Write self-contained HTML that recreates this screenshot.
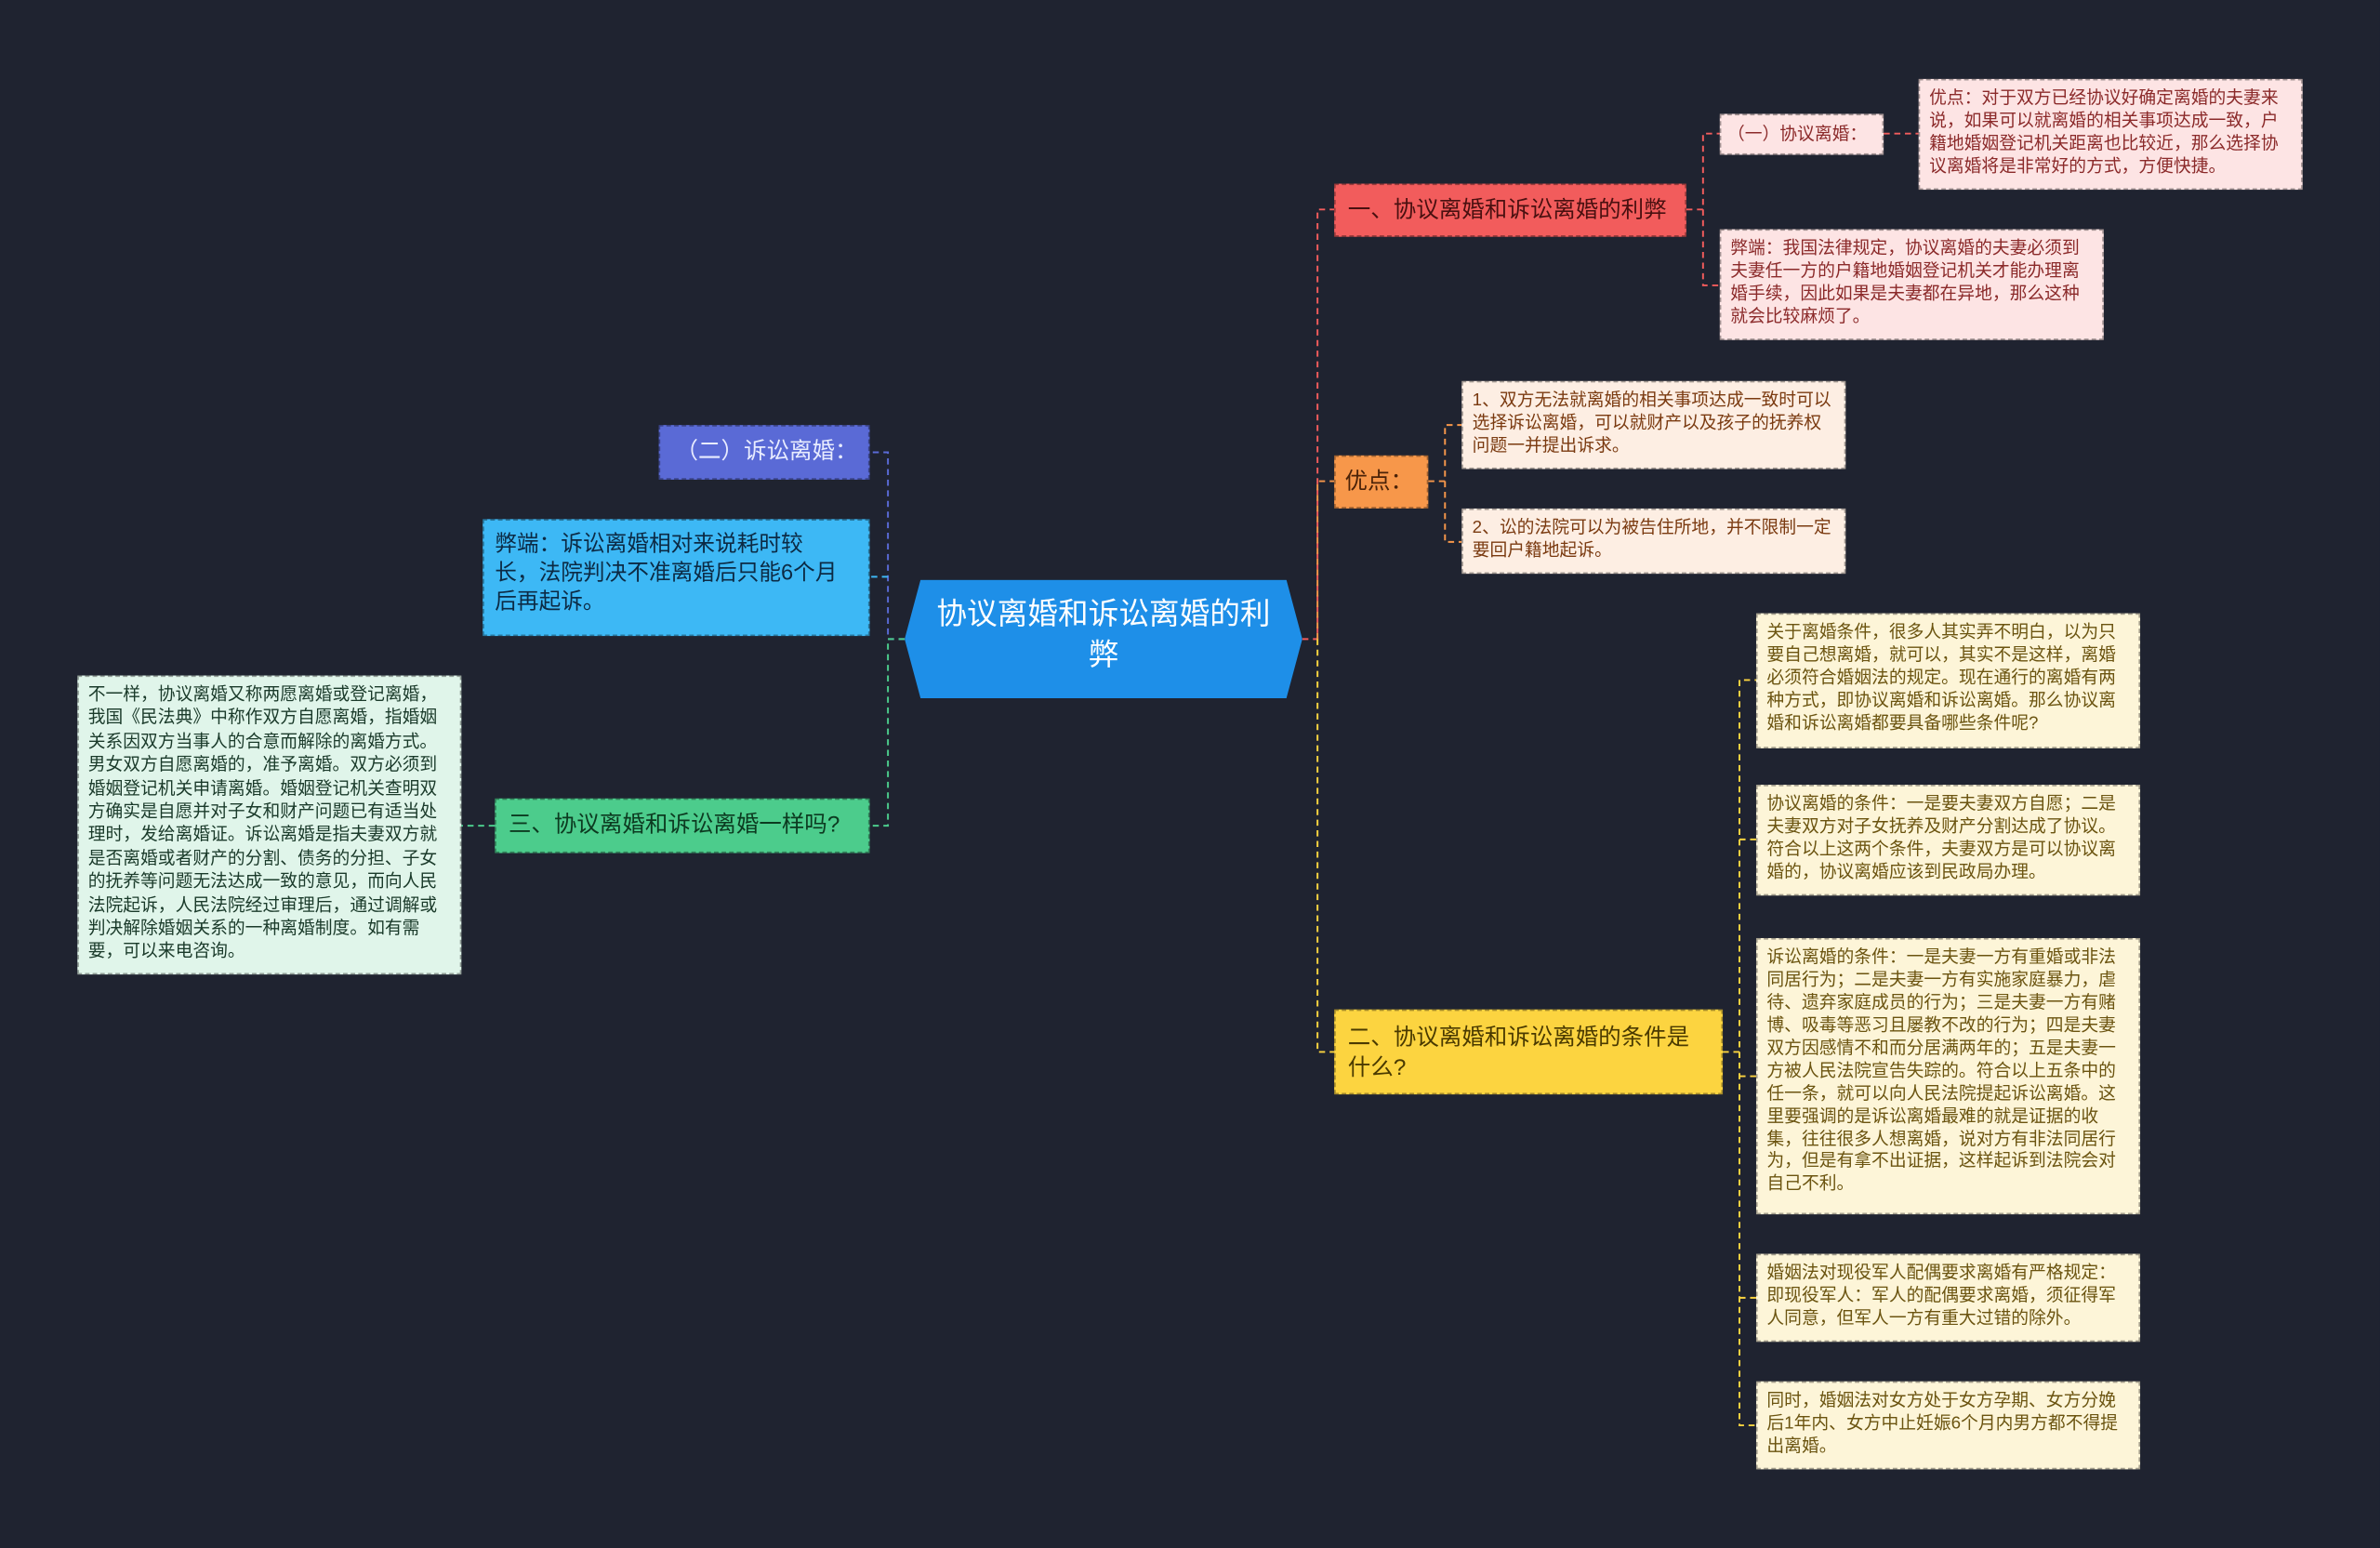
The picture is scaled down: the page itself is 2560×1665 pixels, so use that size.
<!DOCTYPE html>
<html><head><meta charset="utf-8"><style>
html,body{margin:0;padding:0;background:#1f2330;}
#w{width:1568px;height:1020px;position:relative;transform:scale(1.63265);transform-origin:0 0;background:#1f2330;overflow:hidden;font-family:"Liberation Sans","Noto Sans CJK SC",sans-serif;}
.b{position:absolute;box-sizing:border-box;border:1px dashed rgba(0,0,0,.35);padding:5px 6px;line-height:1.3;}
.s{font-size:11.5px;}
.n{white-space:nowrap;}
svg{position:absolute;left:0;top:0;}
</style></head><body><div id="w">
<svg width="1568" height="1020" fill="none" stroke-dasharray="4,3" stroke-width="1.2">
<g stroke="#f25c5c"><path d="M858 421 H868 V138 H879"/><path d="M1111 138 H1122 V88 H1133 M1122 138 V188 H1133 M1241 88 H1264"/></g>
<g stroke="#f7974a"><path d="M868 421 V317 H879"/><path d="M941 317 H952 V280 H963 M952 317 V357 H963"/></g>
<g stroke="#fcd440"><path d="M868 421 V693 H879"/><path d="M1135 693 H1146 V448 H1157 M1146 553 H1157 M1146 709 H1157 M1146 855 H1157 M1146 693 V939 H1157"/></g>
<g stroke="#5a6ad6"><path d="M596 421 H585 V298 H573"/></g>
<g stroke="#3db8f5"><path d="M585 380 H573"/></g>
<g stroke="#4ccc8c"><path d="M596 421 H585 V544 H573 M326 544 H304"/></g>
</svg>
<div class="b" style="left:596px;top:382px;width:262px;height:78px;background:#1e8fe8;border:none;clip-path:polygon(4% 0,96% 0,100% 50%,96% 100%,4% 100%,0 50%);color:#fff;font-size:20px;text-align:center;padding:10px 14px;line-height:1.35">协议离婚和诉讼离婚的利弊</div>
<div class="b n" style="left:879px;top:121px;width:232px;height:35px;background:#f25c5c;color:#4a1010;font-size:15px;padding:7px 8px">一、协议离婚和诉讼离婚的利弊</div>
<div class="b s n" style="left:1133px;top:75px;width:108px;height:27px;background:#fde4e4;color:#8b2a2a;padding:6px 4px">（一）协议离婚：</div>
<div class="b s" style="left:1264px;top:52px;width:253px;height:73px;background:#fde4e4;color:#8b2a2a">优点：对于双方已经协议好确定离婚的夫妻来说，如果可以就离婚的相关事项达成一致，户籍地婚姻登记机关距离也比较近，那么选择协议离婚将是非常好的方式，方便快捷。</div>
<div class="b s" style="left:1133px;top:151px;width:253px;height:73px;background:#fde4e4;color:#8b2a2a">弊端：我国法律规定，协议离婚的夫妻必须到夫妻任一方的户籍地婚姻登记机关才能办理离婚手续，因此如果是夫妻都在异地，那么这种就会比较麻烦了。</div>
<div class="b n" style="left:879px;top:300px;width:62px;height:35px;background:#f7974a;color:#4a2208;font-size:15px;padding:7px 6px">优点：</div>
<div class="b s" style="left:963px;top:251px;width:253px;height:58px;background:#fdeee3;color:#7a3a10">1、双方无法就离婚的相关事项达成一致时可以选择诉讼离婚，可以就财产以及孩子的抚养权问题一并提出诉求。</div>
<div class="b s" style="left:963px;top:335px;width:253px;height:43px;background:#fdeee3;color:#7a3a10">2、讼的法院可以为被告住所地，并不限制一定要回户籍地起诉。</div>
<div class="b" style="left:879px;top:665px;width:256px;height:56px;background:#fcd440;color:#4a3a00;font-size:15px;padding:8px 8px">二、协议离婚和诉讼离婚的条件是什么?</div>
<div class="b s" style="left:1157px;top:404px;width:253px;height:89px;background:#fdf5d8;color:#6b5410">关于离婚条件，很多人其实弄不明白，以为只要自己想离婚，就可以，其实不是这样，离婚必须符合婚姻法的规定。现在通行的离婚有两种方式，即协议离婚和诉讼离婚。那么协议离婚和诉讼离婚都要具备哪些条件呢?</div>
<div class="b s" style="left:1157px;top:517px;width:253px;height:73px;background:#fdf5d8;color:#6b5410">协议离婚的条件：一是要夫妻双方自愿；二是夫妻双方对子女抚养及财产分割达成了协议。符合以上这两个条件，夫妻双方是可以协议离婚的，协议离婚应该到民政局办理。</div>
<div class="b s" style="left:1157px;top:618px;width:253px;height:182px;background:#fdf5d8;color:#6b5410">诉讼离婚的条件：一是夫妻一方有重婚或非法同居行为；二是夫妻一方有实施家庭暴力，虐待、遗弃家庭成员的行为；三是夫妻一方有赌博、吸毒等恶习且屡教不改的行为；四是夫妻双方因感情不和而分居满两年的；五是夫妻一方被人民法院宣告失踪的。符合以上五条中的任一条，就可以向人民法院提起诉讼离婚。这里要强调的是诉讼离婚最难的就是证据的收集，往往很多人想离婚，说对方有非法同居行为，但是有拿不出证据，这样起诉到法院会对自己不利。</div>
<div class="b s" style="left:1157px;top:826px;width:253px;height:58px;background:#fdf5d8;color:#6b5410">婚姻法对现役军人配偶要求离婚有严格规定：即现役军人：军人的配偶要求离婚，须征得军人同意，但军人一方有重大过错的除外。</div>
<div class="b s" style="left:1157px;top:910px;width:253px;height:58px;background:#fdf5d8;color:#6b5410">同时，婚姻法对女方处于女方孕期、女方分娩后1年内、女方中止妊娠6个月内男方都不得提出离婚。</div>
<div class="b n" style="left:434px;top:280px;width:139px;height:36px;background:#5a6ad6;color:#e8ecff;font-size:15px;padding:7px 10px;text-align:right">（二）诉讼离婚：</div>
<div class="b" style="left:318px;top:342px;width:255px;height:77px;background:#3db8f5;color:#0c2a44;font-size:14.5px;padding:7px 20px 7px 7px">弊端：诉讼离婚相对来说耗时较长，法院判决不准离婚后只能6个月后再起诉。</div>
<div class="b n" style="left:326px;top:526px;width:247px;height:36px;background:#4ccc8c;color:#0c3a20;font-size:15px;padding:7px 8px">三、协议离婚和诉讼离婚一样吗?</div>
<div class="b s" style="left:51px;top:445px;width:253px;height:197px;background:#e0f5ea;color:#1a3a2a;line-height:1.34">不一样，协议离婚又称两愿离婚或登记离婚，我国《民法典》中称作双方自愿离婚，指婚姻关系因双方当事人的合意而解除的离婚方式。男女双方自愿离婚的，准予离婚。双方必须到婚姻登记机关申请离婚。婚姻登记机关查明双方确实是自愿并对子女和财产问题已有适当处理时，发给离婚证。诉讼离婚是指夫妻双方就是否离婚或者财产的分割、债务的分担、子女的抚养等问题无法达成一致的意见，而向人民法院起诉，人民法院经过审理后，通过调解或判决解除婚姻关系的一种离婚制度。如有需要，可以来电咨询。</div>
</div></body></html>
